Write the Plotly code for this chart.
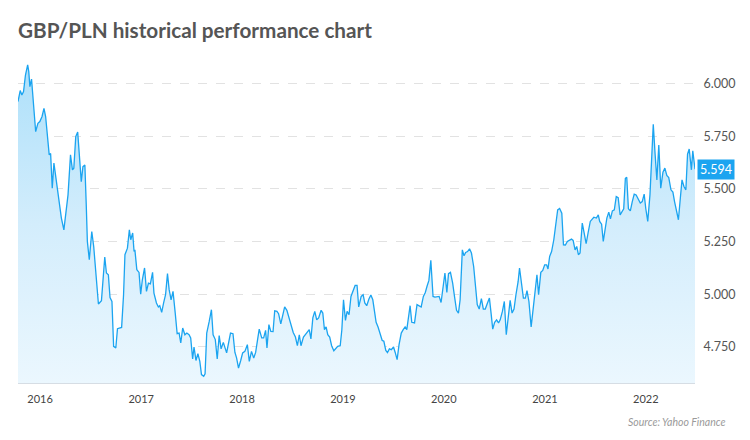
import plotly.graph_objects as go

dates = [
"2015-10-13","2015-10-21","2015-10-27","2015-11-02","2015-11-09","2015-11-17","2015-11-21","2015-11-25","2015-12-01","2015-12-07",
"2015-12-16","2015-12-24","2015-12-31","2016-01-08","2016-01-15","2016-01-21","2016-01-27","2016-02-03","2016-02-08","2016-02-14",
"2016-02-20","2016-02-29","2016-03-08","2016-03-18","2016-03-27","2016-04-05","2016-04-11","2016-04-20","2016-04-27","2016-05-02",
"2016-05-09","2016-05-16","2016-05-22","2016-05-29","2016-06-04","2016-06-11","2016-06-16","2016-06-20","2016-06-27","2016-07-06",
"2016-07-13","2016-07-21","2016-07-30","2016-08-10","2016-08-16","2016-08-22","2016-08-28","2016-09-04","2016-09-10","2016-09-17",
"2016-09-23","2016-10-01","2016-10-07","2016-10-15","2016-10-22","2016-10-29","2016-11-03","2016-11-12","2016-11-19","2016-11-24",
"2016-12-01","2016-12-06","2016-12-09","2016-12-16","2016-12-24","2016-12-30","2017-01-05","2017-01-13","2017-01-20","2017-01-27",
"2017-02-03","2017-02-11","2017-02-16","2017-02-25","2017-03-04","2017-03-09","2017-03-16","2017-03-23","2017-03-30","2017-04-06",
"2017-04-12","2017-04-19","2017-04-26","2017-05-04","2017-05-11","2017-05-18","2017-05-24","2017-05-31","2017-06-08","2017-06-15",
"2017-06-23","2017-06-29","2017-07-06","2017-07-11","2017-07-18","2017-07-25","2017-08-01","2017-08-07","2017-08-15","2017-08-20",
"2017-08-26","2017-09-04","2017-09-12","2017-09-18","2017-09-26","2017-10-03","2017-10-10","2017-10-17","2017-10-25","2017-11-06",
"2017-11-15","2017-11-20","2017-11-29","2017-12-06","2017-12-12","2017-12-19","2017-12-27","2018-01-03","2018-01-11","2018-01-20",
"2018-01-27","2018-02-04","2018-02-12","2018-02-19","2018-02-26","2018-03-04","2018-03-13","2018-03-20","2018-03-27","2018-04-01",
"2018-04-08","2018-04-15","2018-04-23","2018-04-29","2018-05-07","2018-05-13","2018-05-21","2018-05-28","2018-06-04","2018-06-12",
"2018-06-20","2018-06-27","2018-07-05","2018-07-13","2018-07-20","2018-07-27","2018-08-02","2018-08-11","2018-08-18","2018-08-25",
"2018-09-01","2018-09-07","2018-09-14","2018-09-21","2018-09-28","2018-10-05","2018-10-14","2018-10-20","2018-10-26","2018-11-01",
"2018-11-07","2018-11-14","2018-11-21","2018-11-29","2018-12-06","2018-12-13","2018-12-22","2018-12-28","2019-01-03","2019-01-10",
"2019-01-16","2019-01-23","2019-01-30","2019-02-07","2019-02-14","2019-02-21","2019-02-27","2019-03-08","2019-03-15","2019-03-21",
"2019-03-28","2019-04-05","2019-04-12","2019-04-19","2019-04-26","2019-05-01","2019-05-08","2019-05-16","2019-05-23","2019-05-29",
"2019-06-05","2019-06-11","2019-06-18","2019-06-25","2019-07-03","2019-07-09","2019-07-16","2019-07-23","2019-07-31","2019-08-07",
"2019-08-14","2019-08-20","2019-08-28","2019-09-01","2019-09-07","2019-09-17","2019-09-26","2019-10-03","2019-10-11","2019-10-19",
"2019-10-26","2019-11-01","2019-11-08","2019-11-15","2019-11-23","2019-11-30","2019-12-08","2019-12-15","2019-12-22","2019-12-29",
"2020-01-05","2020-01-12","2020-01-18","2020-01-25","2020-02-02","2020-02-09","2020-02-16","2020-02-23","2020-02-29","2020-03-08",
"2020-03-14","2020-03-20","2020-03-27","2020-04-03","2020-04-10","2020-04-18","2020-04-25","2020-05-01","2020-05-08","2020-05-16",
"2020-05-23","2020-05-30","2020-06-06","2020-06-14","2020-06-20","2020-06-26","2020-07-03","2020-07-10","2020-07-17","2020-07-23",
"2020-07-31","2020-08-07","2020-08-14","2020-08-21","2020-08-28","2020-09-04","2020-09-11","2020-09-18","2020-09-26","2020-10-01",
"2020-10-09","2020-10-15","2020-10-22","2020-10-28","2020-11-04","2020-11-12","2020-11-19","2020-11-26","2020-12-03","2020-12-09",
"2020-12-17","2020-12-24","2020-12-31","2021-01-07","2021-01-12","2021-01-18","2021-01-25","2021-02-02","2021-02-09","2021-02-16",
"2021-02-23","2021-03-03","2021-03-09","2021-03-16","2021-03-23","2021-03-31","2021-04-07","2021-04-13","2021-04-20","2021-04-26",
"2021-05-02","2021-05-08","2021-05-16","2021-05-23","2021-05-30","2021-06-06","2021-06-14","2021-06-21","2021-06-27","2021-07-06",
"2021-07-13","2021-07-18","2021-07-25","2021-07-31","2021-08-06","2021-08-13","2021-08-20","2021-08-26","2021-09-02","2021-09-09",
"2021-09-16","2021-09-23","2021-09-30","2021-10-08","2021-10-13","2021-10-19","2021-10-24","2021-10-30","2021-11-06","2021-11-13",
"2021-11-20","2021-11-27","2021-12-05","2021-12-12","2021-12-19","2021-12-26","2022-01-01","2022-01-08","2022-01-16","2022-01-22",
"2022-01-28","2022-02-03","2022-02-10","2022-02-17","2022-02-24","2022-03-04","2022-03-11","2022-03-18","2022-03-25","2022-04-02",
"2022-04-09","2022-04-15","2022-04-22","2022-04-29","2022-05-06","2022-05-12","2022-05-19","2022-05-26","2022-06-01","2022-06-07",
"2022-06-15","2022-06-20","2022-06-28",
]

rates = [
5.915,5.967,5.946,5.962,6.041,6.089,6.057,5.986,6.022,5.915,
5.772,5.812,5.820,5.844,5.883,5.844,5.741,5.662,5.668,5.504,
5.623,5.535,5.440,5.362,5.306,5.393,5.472,5.662,5.591,5.599,
5.749,5.770,5.678,5.535,5.606,5.614,5.425,5.251,5.164,5.298,
5.227,5.108,4.954,4.970,5.101,5.177,5.101,5.093,4.985,4.966,
4.753,4.745,4.837,4.840,4.843,4.998,5.188,5.219,5.306,5.259,
5.291,5.203,5.211,5.117,5.104,5.001,5.069,5.125,5.014,5.053,
5.050,5.104,5.006,4.959,4.940,4.946,4.914,4.959,4.998,5.098,
5.022,4.974,5.014,4.911,4.813,4.816,4.769,4.840,4.808,4.816,
4.808,4.793,4.693,4.750,4.686,4.718,4.682,4.619,4.611,4.623,
4.816,4.871,4.927,4.808,4.785,4.693,4.804,4.741,4.772,4.722,
4.785,4.816,4.813,4.724,4.698,4.650,4.686,4.722,4.729,4.761,
4.682,4.729,4.698,4.724,4.785,4.835,4.793,4.793,4.829,4.745,
4.856,4.824,4.823,4.922,4.919,4.908,4.860,4.903,4.940,4.924,
4.888,4.851,4.819,4.797,4.756,4.808,4.756,4.797,4.808,4.824,
4.832,4.788,4.888,4.919,4.879,4.888,4.924,4.911,4.832,4.845,
4.808,4.797,4.756,4.732,4.745,4.753,4.756,4.832,4.974,4.876,
4.919,4.903,4.990,5.014,5.042,5.042,4.940,4.990,4.998,4.959,
4.946,4.978,4.997,4.974,4.895,4.867,4.845,4.808,4.781,4.777,
4.734,4.724,4.741,4.737,4.750,4.724,4.690,4.761,4.816,4.832,
4.845,4.832,4.911,4.946,4.867,4.864,4.951,4.946,4.940,4.990,
5.009,5.037,5.066,5.161,4.990,4.987,4.987,4.990,4.961,5.037,
5.101,5.009,5.098,5.104,5.053,4.987,4.924,4.911,4.974,5.211,
5.183,5.199,5.203,5.216,5.196,5.132,5.037,4.951,4.930,4.980,
4.930,4.930,4.955,4.982,4.911,4.835,4.867,4.879,4.864,4.879,
4.919,4.966,4.808,4.903,4.971,4.911,4.930,4.998,5.061,5.125,
5.045,4.982,4.982,5.018,4.966,4.845,4.927,5.009,5.093,4.998,
5.104,5.113,5.140,5.140,5.120,5.180,5.203,5.259,5.338,5.401,
5.407,5.385,5.235,5.234,5.251,5.259,5.262,5.256,5.211,5.227,
5.188,5.196,5.338,5.291,5.240,5.291,5.346,5.357,5.366,5.362,
5.377,5.346,5.333,5.251,5.314,5.362,5.390,5.358,5.396,5.401,
5.464,5.459,5.377,5.393,5.406,5.551,5.556,5.406,5.396,5.440,
5.476,5.472,5.453,5.433,5.440,5.476,5.406,5.346,5.472,5.662,
5.807,5.678,5.543,5.709,5.504,5.580,5.599,5.564,5.554,5.496,
5.485,5.440,5.393,5.354,5.457,5.543,5.512,5.496,5.665,5.690,
5.591,5.681,5.594,
]

y_ticks = [4.75, 5.0, 5.25, 5.5, 5.75, 6.0]
y_min, y_max = 4.579, 6.136
title_text = "GBP/PLN historical performance chart"
source_text = "Source: Yahoo Finance"
last_label = "5.594"

LINE = "#1ba4f0"
FONT = "Lato"

fig = go.Figure()
fig.add_trace(go.Scatter(
    x=dates, y=rates, mode="lines",
    line=dict(color=LINE, width=1.3),
    fill="tozeroy",
    fillgradient=dict(
        type="vertical", start=y_min, stop=6.09,
        colorscale=[[0, "#ebf7fe"], [0.5, "#d3edfc"], [1, "#ade0fa"]],
    ),
    hoverinfo="x+y",
))

fig.update_layout(
    width=750, height=440,
    margin=dict(l=18, r=55, t=55, b=57),
    paper_bgcolor="white", plot_bgcolor="white",
    showlegend=False,
    font=dict(family=FONT, color="#555555"),
    title=dict(
        text=title_text, x=18/750, xref="container", xanchor="left",
        y=1-31/440, yref="container", yanchor="middle",
        font=dict(family=FONT, size=20.7, color="#555555", weight="bold"),
    ),
    xaxis=dict(
        type="date", range=[dates[0], dates[-1]],
        showgrid=False, zeroline=False,
        showline=True, linecolor="#d6dde4", linewidth=1,
        tickformat="%Y", dtick="M12", tick0="2016-01-01",
        ticks="outside", ticklen=6, tickcolor="rgba(0,0,0,0)",
        tickfont=dict(family=FONT, size=11, color="#444444"),
    ),
    yaxis=dict(
        side="right", range=[y_min, y_max],
        tickvals=y_ticks, tickformat=".3f",
        showgrid=True, gridcolor="#e2e2e2", griddash="dash", gridwidth=1,
        zeroline=False, showline=False,
        ticks="outside", ticklen=5, tickcolor="rgba(0,0,0,0)",
        tickfont=dict(family=FONT, size=12.5, color="#555555"),
    ),
    annotations=[
        dict(
            text=source_text, xref="paper", yref="paper",
            x=(727-18)/677, xanchor="right", y=(383.3-422)/328.3, yanchor="middle",
            showarrow=False,
            font=dict(family=FONT, size=10.5, color="#9a9a9a", style="italic"),
        ),
        dict(
            text=last_label, xref="paper", yref="y",
            x=1, xanchor="left", xshift=2, y=rates[-1], yanchor="middle",
            showarrow=False, bgcolor=LINE, borderpad=2,
            font=dict(family=FONT, size=12.5, color="white"),
        ),
    ],
)

fig.write_html(
    "out.html",
    config={"displayModeBar": False},
    post_script="document.body.style.margin='0';document.body.style.padding='0';",
)
